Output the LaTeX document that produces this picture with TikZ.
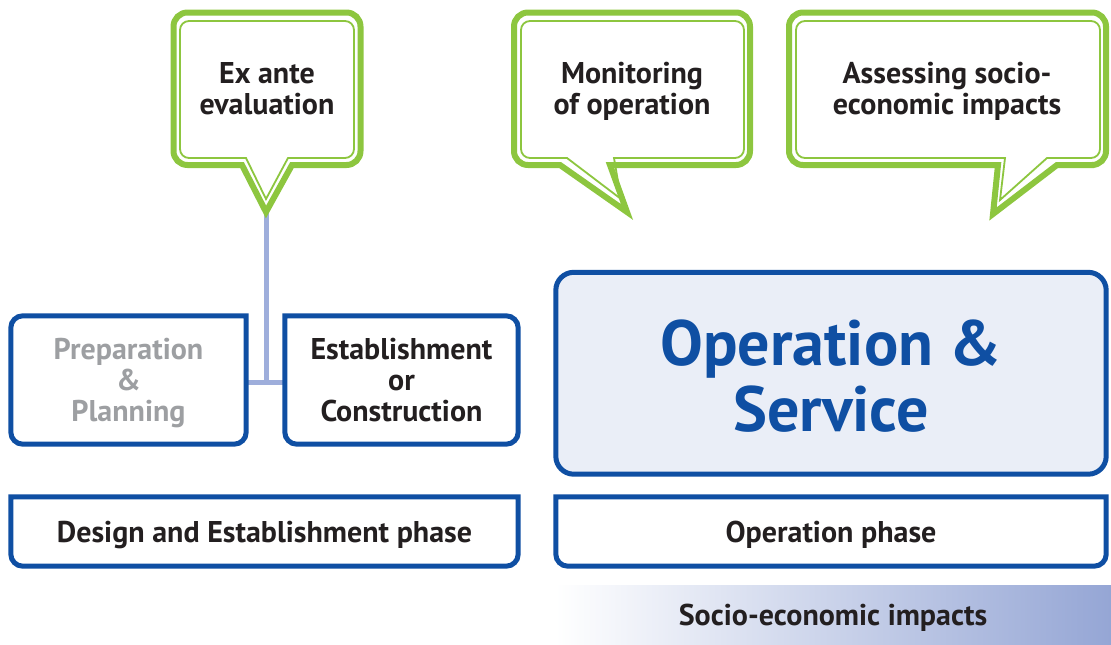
\documentclass[tikz,border=0pt]{standalone}
\usepackage{fontspec}
\setmainfont{PT Sans}
\usepackage{xcolor}
\usetikzlibrary{calc,positioning}

\definecolor{ink}{HTML}{231F20}
\definecolor{boxblue}{HTML}{0F4FA3}
\definecolor{leaf}{HTML}{8DC63F}
\definecolor{lav}{HTML}{9EAEDB}
\definecolor{lavdark}{HTML}{95A6D5}
\definecolor{pale}{HTML}{EAEEF7}
\definecolor{greytxt}{HTML}{9D9FA2}

\begin{document}
\begin{tikzpicture}[x=1pt,y=-1pt]
\tikzstyle{lbl}=[inner sep=0pt, align=center, text=ink, text depth=0pt, font=\bfseries\fontsize{30}{31}\selectfont]
\tikzstyle{phase}=[inner sep=0pt, align=center, text=ink, text depth=0pt, font=\bfseries\fontsize{30}{31}\selectfont]
\tikzstyle{frame}=[draw=boxblue, line width=5pt]
\tikzstyle{bubble}=[draw=leaf, line width=6pt, fill=white]
\tikzstyle{bubblein}=[draw=leaf, line width=1.8pt]
\tikzstyle{link}=[draw=lav, line width=5pt]

\useasboundingbox (0,0) rectangle (1111,645);

% phases and activities
\node[lbl, text=greytxt, minimum width=235pt, minimum height=128pt] (prep) at (128.5,380) {Preparation\\\&\\Planning};
\node[lbl, minimum width=233pt, minimum height=128pt] (estab) at (401.5,380) {Establishment\\or\\Construction};
\node[minimum width=550pt, minimum height=201.5pt, inner sep=0pt] (opserv) at (831,373.25) {};
\node[phase, minimum width=507pt, minimum height=69pt] (design) at (264.5,531.5) {Design and Establishment phase};
\node[phase, minimum width=550pt, minimum height=69pt] (opphase) at (831,531.5) {Operation phase};
\node[phase, left color=white, right color=lavdark, minimum width=556pt, minimum height=60pt] (socio) at (833,615) {Socio-economic impacts};

% connector from the ex ante bubble
\coordinate (tip) at (266,212);
\coordinate (jn) at (266,382);
\draw[link] (tip) -- (jn);
\draw[link] (prep.east |- jn) -- (estab.west |- jn);

% frames
\draw[frame] (prep.north) [sharp corners] -- (prep.north east) -- (prep.east)
  [rounded corners=12pt] -- (prep.south east) -- (prep.south west) -- (prep.north west) -- cycle;
\draw[frame] (estab.north) [sharp corners] -- (estab.north west) -- (estab.west)
  [rounded corners=12pt] -- (estab.south west) -- (estab.south east) -- (estab.north east) -- cycle;
\draw[frame, fill=pale, rounded corners=18pt] (opserv.north west) rectangle (opserv.south east);
\node[lbl, text=boxblue, font=\bfseries\fontsize{64}{66}\selectfont] at ($(opserv.center)+(0,2)$) {Operation \&\\Service};
\draw[frame] (design.south) [rounded corners=12pt] -- (design.south west) -- (design.west)
  [sharp corners] -- (design.north west) -- (design.north east) -- (design.east)
  [rounded corners=12pt] -- (design.south east) -- cycle;
\draw[frame] (opphase.south) [rounded corners=12pt] -- (opphase.south west) -- (opphase.west)
  [sharp corners] -- (opphase.north west) -- (opphase.north east) -- (opphase.east)
  [rounded corners=12pt] -- (opphase.south east) -- cycle;

% speech bubbles
\draw[bubble] (266,12.5) [rounded corners=14pt] -- (360.5,12.5) -- (360.5,165) -- (320,165)
  [sharp corners] -- (292,165) -- (tip) -- (242,165) -- (215,165)
  [rounded corners=14pt] -- (173.5,165) -- (173.5,12.5) -- cycle;
\draw[bubblein] (266,21) [rounded corners=9pt] -- (354,21) -- (354,158) -- (320,158)
  [sharp corners] -- (288,158) -- (266,199) -- (246,158) -- (215,158)
  [rounded corners=9pt] -- (180,158) -- (180,21) -- cycle;
\node[lbl] (exante) at (267,88) {Ex ante\\evaluation};

\draw[bubble] (632,12.5) [rounded corners=14pt] -- (750,12.5) -- (750,165) -- (680,165)
  [sharp corners] -- (610,165) -- (627,212) -- (560,165) -- (540,165)
  [rounded corners=14pt] -- (514,165) -- (514,12.5) -- cycle;
\draw[bubblein] (632,21) [rounded corners=9pt] -- (744,21) -- (744,158) -- (680,158)
  [sharp corners] -- (614,158) -- (621,199) -- (567,158) -- (540,158)
  [rounded corners=9pt] -- (521,158) -- (521,21) -- cycle;
\node[lbl] (monit) at (632,88) {Monitoring\\of operation};

\draw[bubble] (947,12.5) [rounded corners=14pt] -- (1106,12.5) -- (1106,165) -- (1080,165)
  [sharp corners] -- (1057,165) -- (993,214) -- (998,165) -- (960,165)
  [rounded corners=14pt] -- (789,165) -- (789,12.5) -- cycle;
\draw[bubblein] (947,21) [rounded corners=9pt] -- (1100,21) -- (1100,158) -- (1080,158)
  [sharp corners] -- (1047,158) -- (1000,200) -- (1005,158) -- (960,158)
  [rounded corners=9pt] -- (796,158) -- (796,21) -- cycle;
\node[lbl] (assess) at (947,88) {Assessing socio-\\economic impacts};
\end{tikzpicture}
\end{document}
